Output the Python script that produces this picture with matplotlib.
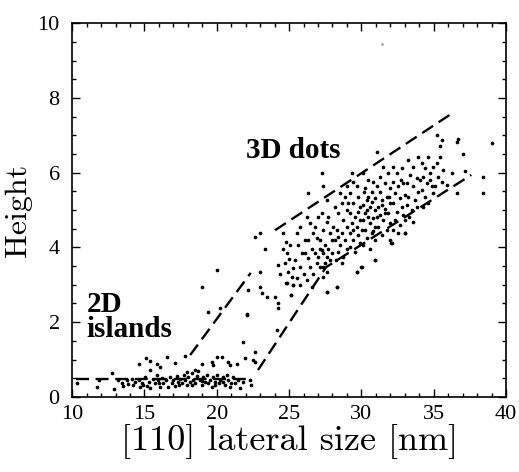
import matplotlib
matplotlib.use("Agg")
import matplotlib.pyplot as plt
from matplotlib.ticker import MultipleLocator

# 2D islands (low band)
islands_x = [10.32, 11.75, 11.89, 12.74, 12.86, 13.2, 13.43, 13.55, 13.78, 13.89,
             14.12, 14.24, 14.35, 14.59, 14.7, 14.82, 14.9, 15.05, 15.16, 15.28,
             15.39, 15.58, 15.74, 15.85, 15.97, 16.0, 16.08, 16.2, 16.31, 16.5,
             16.66, 16.77, 16.89, 17.0, 17.12, 17.24, 17.35, 17.4, 17.47, 17.58,
             17.7, 17.81, 17.93, 18.04, 18.16, 18.27, 18.3, 18.39, 18.5, 18.62,
             18.73, 18.85, 18.96, 19.0, 19.08, 19.19, 19.31, 19.42, 19.54, 19.65,
             19.77, 19.88, 19.9, 20.0, 20.12, 20.23, 20.4, 20.46, 20.58, 20.7,
             20.81, 20.92, 21.0, 21.15, 21.27, 21.5, 21.61, 21.8, 22.3, 22.35,
             14.59, 15.12, 15.39, 15.85, 16.54, 17.12, 17.81, 16.08, 15.39, 17.93,
             18.5, 18.96, 19.65, 19.77, 20.0, 20.35, 20.81, 20.92, 21.38, 21.96,
             22.65, 22.53]
islands_y = [0.375, 0.27, 0.45, 0.64, 0.22, 0.45, 0.36, 0.29, 0.45, 0.34,
             0.49, 0.31, 0.40, 0.46, 0.27, 0.375, 0.32, 0.54, 0.29, 0.40,
             0.25, 0.49, 0.36, 0.58, 0.45, 0.38, 0.27, 0.52, 0.36, 0.45,
             0.27, 0.54, 0.375, 0.46, 0.29, 0.55, 0.40, 0.33, 0.49, 0.36,
             0.58, 0.45, 0.31, 0.54, 0.40, 0.63, 0.33, 0.46, 0.36, 0.55,
             0.70, 0.45, 0.31, 0.42, 0.54, 0.40, 0.58, 0.36, 0.46, 0.27,
             0.54, 0.40, 0.33, 0.58, 0.36, 0.46, 0.40, 0.54, 0.31, 0.58,
             0.45, 0.27, 0.36, 0.54, 0.375, 0.45, 0.25, 0.40, 0.45, 0.33,
             0.89, 1.03, 0.96, 0.89, 1.07, 0.91, 1.09, 0.80, 0.71, 0.67,
             0.73, 0.89, 0.94, 0.85, 1.07, 1.07, 0.94, 0.85, 0.89, 1.03,
             0.94, 0.98]

# transition region
trans_x = [18.96, 19.42, 20.0, 20.23, 21.8, 22.07, 22.1, 22.19, 22.65, 22.65,
           22.97, 23.0, 23.0, 23.11, 23.35, 23.46, 24.03, 24.15, 24.26, 24.26]
trans_y = [2.93, 2.28, 3.39, 2.37, 1.47, 2.23, 2.18, 2.86, 1.21, 4.27,
           4.38, 3.35, 2.95, 2.79, 3.95, 2.68, 2.68, 1.79, 2.50, 2.37]

# 3D dots
dots_x = [24.26, 24.38, 24.84, 25.14, 24.61, 24.84, 25.07, 24.72, 24.95, 25.3,
          24.55, 24.8, 25.0, 25.2,
          25.53, 25.76, 25.65, 25.88, 25.42, 25.76, 25.58, 25.76, 26.0, 25.3, 26.1,
          26.34, 26.22, 26.45, 26.68, 26.34, 26.57, 26.8, 26.34, 26.91, 26.45,
          26.68, 26.22, 26.91, 26.8, 26.98, 26.1, 26.57,
          27.26, 27.37, 27.6, 27.26, 27.6, 27.37, 27.83, 27.14, 27.49, 27.72,
          27.26, 27.37, 27.6, 27.03, 27.14, 27.95, 27.83, 27.49, 27.6, 27.37,
          27.6, 27.95, 28.06, 27.72, 27.37, 27.14,
          28.29, 28.18, 28.41, 28.64, 28.76, 28.29, 28.64, 28.99, 28.18, 28.53,
          28.87, 28.41, 28.76, 28.99, 28.23, 28.64, 28.99, 28.87, 28.53, 29.03, 28.41,
          29.33, 29.45, 29.68, 29.22, 29.79, 29.45, 29.91, 29.22, 29.56, 29.91,
          29.33, 29.68, 29.22, 29.79, 29.45, 29.91, 29.22, 29.56, 30.02, 29.68,
          30.02, 29.1, 29.79, 29.4,
          30.14, 30.48, 30.25, 30.71, 30.94, 30.37, 30.14, 30.6, 30.94, 30.25,
          30.48, 30.83, 30.14, 30.6, 30.94, 30.25, 30.71, 30.37, 30.94, 30.14,
          30.6, 30.94, 30.71, 30.37, 31.06, 30.83, 30.48, 30.18, 31.06, 30.78,
          31.06, 31.52, 31.87, 31.29, 31.64, 31.98, 31.29, 31.75, 31.41, 31.98,
          31.18, 31.64, 31.87, 31.29, 31.52, 31.98, 31.18, 31.75, 31.41, 31.98,
          31.64, 31.45, 31.94,
          32.05, 32.21, 32.44, 32.79, 32.21, 32.56, 32.9, 32.33, 32.67, 33.02,
          32.21, 32.79, 32.44, 32.9, 32.33, 32.67, 33.02, 32.21, 32.56, 33.02, 32.74,
          33.25, 33.59, 33.94, 33.36, 33.82, 33.13, 33.59, 33.94, 33.25, 33.71,
          33.13, 33.48, 33.82, 33.3, 33.59, 34.05,
          34.63, 34.17, 34.4, 34.74, 34.29, 34.52, 34.86, 34.17, 34.4, 34.98,
          34.63, 34.24, 34.98, 34.74,
          35.21, 35.55, 35.44, 35.21, 35.67, 35.32, 35.9, 35.55, 35.09, 35.44,
          36.59, 36.7, 37.05, 37.17, 36.59, 38.39, 38.39, 39.0, 36.24,
          30.95, 30.0, 29.7, 32.1, 33.0, 28.3, 27.6, 25.1, 24.8, 25.3]
dots_y = [3.53, 3.30, 3.04, 2.74, 4.38, 3.84, 4.06, 3.57, 3.35, 2.99,
          3.97, 4.15, 3.70, 3.20,
          4.38, 4.55, 4.06, 3.84, 3.66, 3.48, 3.17, 2.99, 3.30, 3.44, 4.20,
          5.46, 4.82, 4.64, 4.38, 4.20, 3.97, 3.84, 3.71, 3.57, 3.48,
          3.30, 3.13, 4.24, 4.55, 4.82, 3.84, 2.95,
          5.98, 5.63, 5.27, 4.91, 4.69, 4.46, 4.38, 4.20, 4.06, 3.97,
          3.93, 3.84, 3.75, 3.75, 3.97, 3.84, 3.66, 3.57, 3.35, 3.21,
          2.81, 4.20, 4.55, 4.82, 3.48, 3.48,
          2.95, 5.09, 4.91, 5.18, 4.73, 4.46, 4.38, 4.55, 4.20, 4.06,
          4.20, 3.88, 3.75, 3.97, 3.66, 3.57, 5.63, 5.36, 5.45, 5.00, 4.29,
          5.98, 5.76, 5.63, 5.45, 5.36, 5.18, 5.09, 4.91, 4.82, 4.73,
          4.64, 4.55, 4.38, 4.33, 4.20, 4.11, 4.02, 3.88, 3.48, 3.35,
          4.46, 5.18, 4.96, 4.46,
          5.98, 5.80, 5.58, 5.49, 5.31, 5.27, 5.13, 5.09, 5.00, 4.91,
          4.82, 4.78, 4.73, 4.64, 4.55, 4.46, 4.38, 4.24, 4.20, 4.06,
          3.97, 3.66, 5.22, 5.00, 5.63, 5.76, 5.36, 5.49, 4.82, 4.45,
          6.54, 6.16, 5.98, 5.89, 5.71, 5.58, 5.49, 5.36, 5.27, 5.18,
          5.09, 5.04, 4.91, 4.87, 4.73, 4.64, 4.55, 4.46, 4.33, 4.20,
          4.91, 5.13, 5.36,
          4.13, 6.16, 5.98, 6.12, 5.76, 5.63, 5.71, 5.45, 5.31, 5.40,
          5.18, 5.09, 4.96, 4.87, 4.73, 4.60, 4.38, 4.46, 4.38, 4.73, 5.80,
          6.34, 6.16, 6.43, 5.94, 5.85, 5.71, 5.63, 5.49, 5.36, 5.27,
          5.13, 5.00, 5.09, 4.82, 4.69, 5.80,
          6.43, 6.25, 6.12, 5.98, 5.89, 5.71, 5.63, 5.54, 5.36, 5.45,
          5.18, 5.09, 6.16, 5.80,
          7.01, 6.88, 6.70, 6.25, 6.07, 5.89, 5.67, 5.76, 5.63, 6.43,
          6.83, 6.89, 6.50, 6.05, 5.46, 5.88, 5.46, 6.79, 5.98,
          3.66, 3.48, 3.35, 4.13, 4.38, 2.95, 2.80, 2.74, 3.04, 3.00]

# faint speck near the top
speck_x = [31.4]
speck_y = [9.44]

# dashed guide lines
base_x = [10.3, 22.1]
base_y = [0.49, 0.49]
up1_x = [18.16, 22.35]
up1_y = [1.12, 3.32]
up2_x = [24.03, 36.4]
up2_y = [4.46, 7.62]
low_x = [22.85, 27.55, 37.6]
low_y = [0.72, 3.47, 5.94]

fig = plt.figure(figsize=(5.19, 4.72), dpi=100)
ax = fig.add_axes([0.139, 0.159, 0.836, 0.792])

dash = dict(color="black", lw=1.7, linestyle=(0, (5.5, 2.8)))
ax.plot(base_x, base_y, **dash)
ax.plot(up1_x, up1_y, **dash)
ax.plot(up2_x, up2_y, **dash)
ax.plot(low_x, low_y, **dash)

for xs, ys in [(islands_x, islands_y), (trans_x, trans_y), (dots_x, dots_y)]:
    ax.scatter(xs, ys, s=7, c="black", linewidths=0)
ax.scatter(speck_x, speck_y, s=3, c="0.55", linewidths=0)

ax.set_xlim(10, 40)
ax.set_ylim(0, 10)
ax.xaxis.set_major_locator(MultipleLocator(5))
ax.xaxis.set_minor_locator(MultipleLocator(1))
ax.yaxis.set_major_locator(MultipleLocator(2))
ax.yaxis.set_minor_locator(MultipleLocator(0.5))
ax.tick_params(which="both", direction="in", top=True, right=True, width=1)
ax.tick_params(which="major", length=6)
ax.tick_params(which="minor", length=3)
ax.tick_params(axis="x", pad=6)
ax.tick_params(axis="y", pad=9)
for lab in ax.get_xticklabels() + ax.get_yticklabels():
    lab.set_family("Liberation Serif")
    lab.set_fontsize(16)
for sp in ax.spines.values():
    sp.set_linewidth(1.2)

ax.set_xlabel("[110] lateral size [nm]", fontsize=26, labelpad=0,
              family=["cmr10", "DejaVu Serif"])
ax.set_ylabel("Height", fontsize=23, labelpad=4,
              family=["cmr10", "DejaVu Serif"])

ax.text(22.0, 6.6, "3D dots", fontsize=21, fontweight="bold",
        family="Liberation Serif", va="center")
ax.text(11.0, 2.46, "2D", fontsize=21, fontweight="bold",
        family="Liberation Serif", va="center")
ax.text(11.0, 1.80, "islands", fontsize=21, fontweight="bold",
        family="Liberation Serif", va="center")

fig.savefig("out.png", dpi=100)
